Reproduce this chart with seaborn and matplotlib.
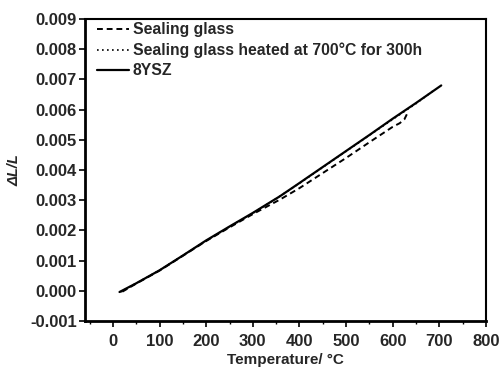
import matplotlib
matplotlib.use("Agg")
import matplotlib.pyplot as plt
import seaborn as sns
import pandas as pd
from matplotlib.ticker import MultipleLocator

# Data
T_ysz = [14, 50, 100, 150, 200, 250, 300, 358, 400, 450, 500, 550, 600, 650, 704]
dl_ysz = [-0.00004, 0.00025, 0.00068, 0.00117, 0.00167, 0.00213, 0.00258, 0.00313, 0.00357, 0.00410,
          0.00463, 0.00516, 0.00570, 0.00622, 0.00680]

T_glass = [20, 50, 100, 150, 200, 250, 300, 358, 400, 450, 500, 550, 600, 615, 625, 632]
dl_glass = [-0.00003, 0.00024, 0.00067, 0.00116, 0.00165, 0.00210, 0.00254, 0.00302, 0.00340, 0.00390,
            0.00440, 0.00492, 0.00543, 0.00555, 0.00568, 0.00590]

T_heated = [16, 50, 100, 150, 200, 250, 300, 350, 400, 450, 500, 550, 600, 650, 690]
dl_heated = [-0.00004, 0.00025, 0.00068, 0.00117, 0.00166, 0.00212, 0.00257, 0.00305, 0.00356, 0.00409,
             0.00462, 0.00515, 0.00568, 0.00620, 0.00666]

labels = ["Sealing glass", "Sealing glass heated at 700\u00b0C for 300h", "8YSZ"]

sns.set_theme(style="white")
plt.rcParams['font.family'] = ['Liberation Sans', 'DejaVu Sans']
plt.rcParams['font.weight'] = 'bold'

fig = plt.figure(figsize=(5.02, 3.68), dpi=100)
ax = fig.add_axes([85/502, 1 - 321/368, (486-85)/502, (321-19)/368])

df_g = pd.DataFrame({"T": T_glass, "v": dl_glass})
df_h = pd.DataFrame({"T": T_heated, "v": dl_heated})
df_y = pd.DataFrame({"T": T_ysz, "v": dl_ysz})

sns.lineplot(data=df_h, x="T", y="v", ax=ax, color="black", lw=1.2, linestyle=(0, (1, 2)), label=labels[1], sort=False)
sns.lineplot(data=df_g, x="T", y="v", ax=ax, color="black", lw=1.4, linestyle=(0, (3, 2)), label=labels[0], sort=False)
sns.lineplot(data=df_y, x="T", y="v", ax=ax, color="black", lw=1.6, linestyle="-", label=labels[2], sort=False)

ax.set_xlim(-60, 800)
ax.set_ylim(-0.001, 0.009)
ax.xaxis.set_minor_locator(MultipleLocator(50))
ax.set_xticks(range(0, 801, 100))
ax.set_xticklabels([str(v) for v in range(0, 801, 100)])
ax.set_yticks([i / 1000 for i in range(-1, 10)])
ax.set_yticklabels(["%.3f" % (i / 1000) for i in range(-1, 10)])

ax.tick_params(axis='x', which='major', direction='out', length=4, width=1.2, color='black',
               labelsize=12, pad=5, bottom=True)
ax.tick_params(axis='y', which='major', direction='out', length=4, width=1.2, color='black',
               labelsize=12, pad=2, left=True)
ax.tick_params(axis='x', which='minor', direction='out', length=2, width=1, color='black', bottom=True)
for lab in ax.get_xticklabels() + ax.get_yticklabels():
    lab.set_fontweight('bold')

for side in ['left', 'bottom']:
    ax.spines[side].set_linewidth(2)
    ax.spines[side].set_color('black')
for side in ['top', 'right']:
    ax.spines[side].set_linewidth(1.5)
    ax.spines[side].set_color('black')

ax.set_xlabel("Temperature/ \u00b0C", fontsize=11, fontweight='bold', labelpad=3.5)
ax.set_ylabel("\u0394L/L", fontsize=10.5, fontweight='bold', style='italic', labelpad=6)

handles, labs = ax.get_legend_handles_labels()
order = [labs.index(l) for l in labels]
leg = ax.legend([handles[i] for i in order], [labs[i] for i in order], loc='upper left',
                frameon=False, fontsize=11.3, handlelength=2.05, handletextpad=0.2,
                labelspacing=0.34, borderaxespad=0.0, bbox_to_anchor=(0.015, 1.01))
for t in leg.get_texts():
    t.set_fontweight('bold')

fig.savefig("out.png", dpi=100)
